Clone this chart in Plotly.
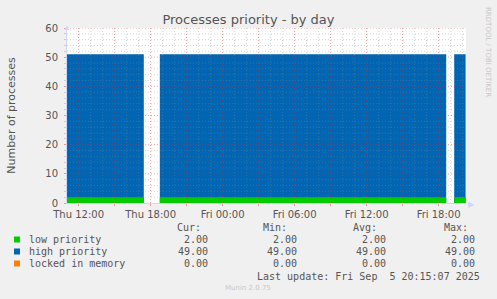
import plotly.graph_objects as go
import pandas as pd
import numpy as np

# ---------------- data ----------------
seg_starts = ["2025-09-04 10:50", "2025-09-04 18:46", "2025-09-05 19:18"]
seg_ends = ["2025-09-04 17:26", "2025-09-05 18:38", "2025-09-05 20:15"]
low_priority = [2, 2, 2]
high_priority = [49, 49, 49]

x_range = ["2025-09-04 11:02", "2025-09-05 20:17"]
y_range = [0, 60]

legend_names = ["low priority", "high priority", "locked in memory"]
legend_colors = ["#00CC00", "#0066B3", "#FF8000"]
cur_vals = ["2.00", "49.00", "0.00"]
min_vals = ["2.00", "49.00", "0.00"]
avg_vals = ["2.00", "49.00", "0.00"]
max_vals = ["2.00", "49.00", "0.00"]
col_headers = ["Cur:", "Min:", "Avg:", "Max:"]

title = "Processes priority - by day"
y_title = "Number of processes"
last_update = "Last update: Fri Sep  5 20:15:07 2025"
footer = "Munin 2.0.75"
watermark = "RRDTOOL / TOBI OETIKER"

W, H = 497, 299
L, R, T, B = 67, 466, 28, 203  # plot area in pixels


def px(x):
    return (x - L) / (R - L)


def py(y):
    return (B - y) / (B - T)


font_main = "DejaVu Sans"
font_mono = "DejaVu Sans Mono"
txt = "#555555"
minor_grid = "rgba(140,140,140,0.35)"
major_grid = "rgba(220,40,40,0.45)"
axis_col = "#CFD6F8"

fig = go.Figure()

# ---------------- stacked areas, one trace per data segment ----------------
for s, e, lo, hi in zip(seg_starts, seg_ends, low_priority, high_priority):
    fig.add_trace(go.Scatter(x=[s, e], y=[lo + hi, lo + hi], mode="lines",
                             line=dict(width=0, shape="hv"), fill="tozeroy",
                             fillcolor=legend_colors[1], hoverinfo="skip"))
    fig.add_trace(go.Scatter(x=[s, e], y=[lo, lo], mode="lines",
                             line=dict(width=0, shape="hv"), fill="tozeroy",
                             fillcolor=legend_colors[0], hoverinfo="skip"))

# ---------------- grid drawn over the areas (rrdtool style) ----------------
x0, x1 = pd.Timestamp(x_range[0]), pd.Timestamp(x_range[1])
hours = pd.date_range(x0.ceil("1h"), x1, freq="1h")
x_major = [h for h in hours if h.hour % 3 == 0]
x_minor = [h for h in hours if h.hour % 3 != 0]
y_major = [v for v in np.arange(10, 61, 10)]
y_minor = [v for v in np.arange(2, 60, 2) if v % 10 != 0]


def vlines(xs):
    gx, gy = [], []
    for xv in xs:
        gx += [xv, xv, None]
        gy += [y_range[0], y_range[1], None]
    return gx, gy


def hlines(ys):
    gx, gy = [], []
    for yv in ys:
        gx += [x0, x1, None]
        gy += [yv, yv, None]
    return gx, gy


for xs_, col in [(x_minor, minor_grid), (x_major, major_grid)]:
    gx, gy = vlines(xs_)
    fig.add_trace(go.Scatter(x=gx, y=gy, mode="lines", hoverinfo="skip",
                             line=dict(color=col, width=1, dash="1px,2px")))
for ys_, col in [(y_minor, minor_grid), (y_major, major_grid)]:
    gx, gy = hlines(ys_)
    fig.add_trace(go.Scatter(x=gx, y=gy, mode="lines", hoverinfo="skip",
                             line=dict(color=col, width=1, dash="1px,2px")))

H1 = 3600 * 1000
fig.update_layout(
    width=W, height=H,
    margin=dict(l=L, r=W - R, t=T, b=H - B, pad=0, autoexpand=False),
    paper_bgcolor="#F0F0F0",
    plot_bgcolor="#FFFFFF",
    showlegend=False,
    title=dict(text=title, x=0.5, xanchor="center", y=1 - 19 / H, yanchor="middle",
               font=dict(family=font_main, size=13, color=txt)),
    xaxis=dict(type="date", range=x_range, showgrid=False, zeroline=False, automargin=False,
               showline=True, linecolor=axis_col, linewidth=1, layer="above traces",
               dtick=6 * H1, tick0="2025-09-04 00:00", tickformat="%a %H:%M",
               ticks="outside", ticklen=2, tickcolor=major_grid,
               minor=dict(dtick=3 * H1, ticks="outside", ticklen=2, tickcolor=major_grid, showgrid=False),
               tickfont=dict(family=font_main, size=10, color=txt), ticklabelstandoff=0),
    yaxis=dict(range=y_range, showgrid=False, zeroline=False, automargin=False,
               showline=True, linecolor=axis_col, linewidth=1, layer="above traces",
               dtick=10, ticks="outside", ticklen=2, tickcolor=major_grid,
               minor=dict(dtick=2, ticks="outside", ticklen=2, tickcolor=minor_grid, showgrid=False),
               tickfont=dict(family=font_main, size=10, color=txt), ticklabelstandoff=4,
               title=dict(text=y_title, font=dict(family=font_main, size=11, color=txt), standoff=27)),
)

shapes = []
ann = []
# axis arrows
ann.append(dict(text="▲", xref="paper", yref="paper", x=px(67), y=py(26), xanchor="center",
                yanchor="middle", showarrow=False, font=dict(size=8, color=axis_col)))
ann.append(dict(text="▶", xref="paper", yref="paper", x=px(471), y=py(203), xanchor="center",
                yanchor="middle", showarrow=False, font=dict(size=8, color=axis_col)))
# watermark
ann.append(dict(text=watermark, xref="paper", yref="paper", x=px(488), y=py(52), textangle=90,
                xanchor="center", yanchor="middle", showarrow=False,
                font=dict(family=font_main, size=7, color="#C8C8C8")))

# legend table
header_right = [203, 289, 379, 470]
value_right = [210, 299, 388, 477]
row_y = [239.5, 251.5, 263.5]
for hx, h in zip(header_right, col_headers):
    ann.append(dict(text=h, xref="paper", yref="paper", x=px(hx), y=py(227.5), xanchor="right",
                    yanchor="middle", showarrow=False, font=dict(family=font_mono, size=10, color=txt)))
for i, name in enumerate(legend_names):
    yy = row_y[i]
    shapes.append(dict(type="rect", xref="paper", yref="paper", x0=px(14), x1=px(20),
                       y0=py(yy + 3), y1=py(yy - 3), fillcolor=legend_colors[i], line=dict(width=0)))
    ann.append(dict(text=name, xref="paper", yref="paper", x=px(27), y=py(yy), xanchor="left",
                    yanchor="middle", showarrow=False, font=dict(family=font_mono, size=10, color=txt)))
    for vx, vals in zip(value_right, [cur_vals, min_vals, avg_vals, max_vals]):
        ann.append(dict(text=vals[i], xref="paper", yref="paper", x=px(vx), y=py(yy), xanchor="right",
                        yanchor="middle", showarrow=False, font=dict(family=font_mono, size=10, color=txt)))
ann.append(dict(text=last_update.replace(" ", "&nbsp;"), xref="paper", yref="paper", x=px(482), y=py(276),
                xanchor="right", yanchor="middle", showarrow=False,
                font=dict(family=font_mono, size=10, color=txt)))
ann.append(dict(text=footer, xref="paper", yref="paper", x=px(248), y=py(287.5), xanchor="center",
                yanchor="middle", showarrow=False, font=dict(family=font_main, size=7, color="#C8C8C8")))

fig.update_layout(shapes=shapes, annotations=ann)
fig.write_html("out.html")
